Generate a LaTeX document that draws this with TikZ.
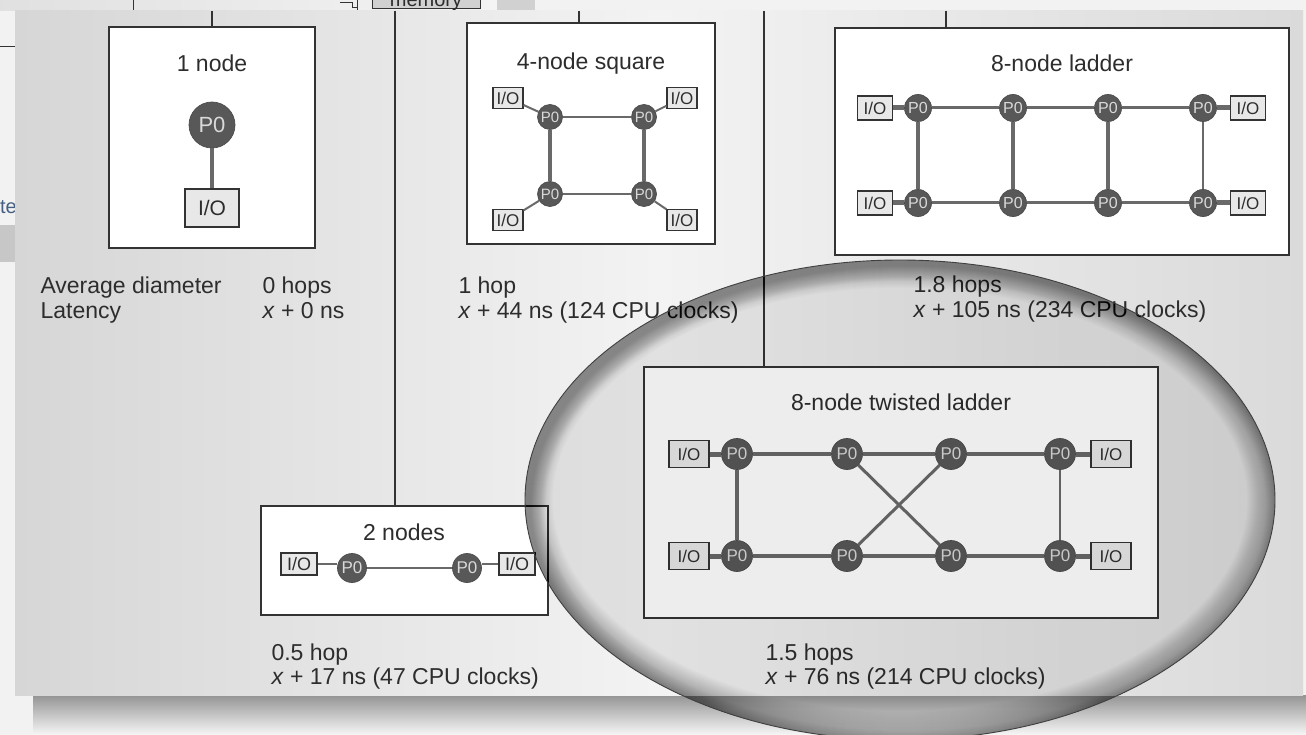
\documentclass[tikz,border=0pt]{standalone}
\usepackage{fontspec}
\setmainfont{Liberation Sans}
\usetikzlibrary{positioning}
\definecolor{procgray}{RGB}{88, 88, 88}
\definecolor{linkgray}{RGB}{105, 105, 105}
\definecolor{iofill}{RGB}{232, 232, 232}
\definecolor{inkgray}{RGB}{45, 45, 45}
\definecolor{panelleft}{RGB}{214, 214, 214}
\definecolor{panelmid}{RGB}{243, 243, 243}
\definecolor{panelright}{RGB}{218, 218, 218}
\definecolor{remblue}{RGB}{70, 95, 130}

\begin{document}
\begin{tikzpicture}[x=1pt, y=-1pt,
  netbox/.style={draw=black!80, fill=white, line width=1.2pt, inner sep=0pt},
  proc/.style={circle, fill=procgray, draw=black!70, line width=0.7pt,
    inner sep=0pt, minimum size=#1, text=white!85!black,
    font=\fontsize{16}{16}\selectfont},
  iobox/.style 2 args={draw=black!80, fill=iofill, line width=1.1pt,
    inner sep=0pt, minimum width=#1, minimum height=#2, text=inkgray,
    font=\fontsize{17}{17}\selectfont},
  link/.style={draw=linkgray, line width=#1},
  title/.style={anchor=base, text=inkgray, font=\fontsize{23}{24}\selectfont},
  metric/.style={anchor=base west, text=inkgray, font=\fontsize{23}{24}\selectfont},
  stem/.style={draw=black!80, line width=1.2pt}]
  \clip (0,0) rectangle (1306,735);
  \useasboundingbox (0,0) rectangle (1306,735);

  %--- page behind the panel ---
  \fill[black!5] (0,0) rectangle (1306,735);
  \shade[left color=black!12, right color=black!4] (0,0) rectangle (520,11);
  \fill[black!18] (497,0) rectangle (535,11);
  \draw[black!80, line width=1pt] (133,0) -- (133,11);
  \draw[black!80, line width=1pt] (340,3) -- (352,3) -- (352,8) -- (357,8)
    (357,0) -- (357,11);
  \node[draw=black!80, fill=black!18, line width=1pt, minimum width=108pt,
        minimum height=30pt, anchor=south west] (memory) at (372,9) {};
  \node[anchor=base, text=inkgray, font=\fontsize{20}{20}\selectfont,
        inner sep=0pt] (memlabel) at (426,7) {memory};
  \draw[black!80, line width=1pt] (0,47) -- (15,47);
  \fill[black!22] (0,225) rectangle (15,262);
  \node[anchor=base east, text=remblue, font=\fontsize{20}{20}\selectfont,
        inner sep=0pt] (cut) at (17,214) {te};

  %--- panel and its shadow ---
  \shade[top color=black!42, bottom color=black!3] (33,695) rectangle (1306,735);
  \shade[left color=panelleft, right color=panelright, middle color=panelmid]
    (15,11) rectangle (1303,695);

  %--- topology boxes ---
  \node[netbox, minimum width=206pt, minimum height=221pt] (one) at (212,137.5) {};
  \node[netbox, minimum width=248pt, minimum height=221pt] (square) at (591,133.5) {};
  \node[netbox, minimum width=454pt, minimum height=227pt] (ladder) at (1062,141.5) {};
  \node[netbox, minimum width=287pt, minimum height=109pt] (two) at (404.5,560.5) {};
  \node[netbox, minimum width=514pt, minimum height=251pt] (twisted) at (901,492.5) {};

  %--- stems from the top edge ---
  \coordinate (s1) at (212,11);
  \coordinate (s2) at (395,11);
  \coordinate (s3) at (579,11);
  \coordinate (s4) at (764,11);
  \coordinate (s5) at (946,11);
  \draw[stem] (s1) -- (s1 |- one.north);
  \draw[stem] (s2) -- (s2 |- two.north);
  \draw[stem] (s3) -- (s3 |- square.north);
  \draw[stem] (s4) -- (s4 |- twisted.north);
  \draw[stem] (s5) -- (s5 |- ladder.north);

  %--- titles ---
  \node[title] (t1) at (212,72) {1 node};
  \node[title] (t2) at (591,70) {4-node square};
  \node[title] (t3) at (1062,72) {8-node ladder};
  \node[title] (t4) at (404,540) {2 nodes};
  \node[title] (t5) at (901,410) {8-node twisted ladder};

  %--- 1 node ---
  \node[proc=46pt, font=\fontsize{22}{22}\selectfont] (p1) at (212,125) {P0};
  \node[iobox={54pt}{38pt}, font=\fontsize{21}{21}\selectfont] (io1) at (212,208) {I/O};
  \draw[link=4.5pt] (p1) -- (io1);

  %--- 4-node square ---
  \node[proc=25pt, font=\fontsize{15}{15}\selectfont] (sa) at (550,117) {P0};
  \node[proc=25pt, font=\fontsize{15}{15}\selectfont] (sb) at (644,117) {P0};
  \node[proc=25pt, font=\fontsize{15}{15}\selectfont] (sc) at (550,194) {P0};
  \node[proc=25pt, font=\fontsize{15}{15}\selectfont] (sd) at (644,194) {P0};
  \node[iobox={30pt}{21pt}] (sio1) at (508,98) {I/O};
  \node[iobox={30pt}{21pt}] (sio2) at (682,98) {I/O};
  \node[iobox={30pt}{21pt}] (sio3) at (508,220) {I/O};
  \node[iobox={30pt}{21pt}] (sio4) at (682,220) {I/O};
  \draw[link=2.5pt] (sa) -- (sb) (sc) -- (sd);
  \draw[link=4pt] (sa) -- (sc) (sb) -- (sd);
  \draw[link=2pt] (sio1) -- (sa) (sio2) -- (sb) (sio3) -- (sc) (sio4) -- (sd);

  %--- 8-node ladder ---
  \foreach \i/\x in {1/918, 2/1013, 3/1108, 4/1203} {
    \node[proc=27pt] (la\i) at (\x,108) {P0};
    \node[proc=27pt] (lb\i) at (\x,203) {P0};
  }
  \node[iobox={35pt}{24pt}] (lio1) at (875,108) {I/O};
  \node[iobox={35pt}{24pt}] (lio2) at (1248,108) {I/O};
  \node[iobox={35pt}{24pt}] (lio3) at (875,203) {I/O};
  \node[iobox={35pt}{24pt}] (lio4) at (1248,203) {I/O};
  \foreach \i [count=\j from 2] in {1,2,3}
    \draw[link=3pt] (la\i) -- (la\j) (lb\i) -- (lb\j);
  \draw[link=4pt] (la1) -- (lb1) (la2) -- (lb2) (la3) -- (lb3);
  \draw[link=2.5pt] (la4) -- (lb4);
  \draw[link=5pt] (lio1) -- (la1) (lio2) -- (la4) (lio3) -- (lb1) (lio4) -- (lb4);

  %--- 2 nodes ---
  \node[proc=29pt, font=\fontsize{17}{17}\selectfont] (da) at (352,568) {P0};
  \node[proc=29pt, font=\fontsize{17}{17}\selectfont] (db) at (467,568) {P0};
  \node[iobox={36pt}{22pt}, font=\fontsize{18}{18}\selectfont] (dio1) at (299,564) {I/O};
  \node[iobox={36pt}{22pt}, font=\fontsize{18}{18}\selectfont] (dio2) at (517,564) {I/O};
  \draw[link=2.5pt] (dio1) -- (dio1 -| da.west) (da) -- (db) (db.east |- dio2) -- (dio2);

  %--- 8-node twisted ladder ---
  \foreach \i/\x in {1/737, 2/847, 3/951, 4/1060} {
    \node[proc=31pt, font=\fontsize{17}{17}\selectfont] (ta\i) at (\x,454) {P0};
    \node[proc=31pt, font=\fontsize{17}{17}\selectfont] (tb\i) at (\x,556) {P0};
  }
  \node[iobox={40pt}{27pt}] (tio1) at (689,454) {I/O};
  \node[iobox={40pt}{27pt}] (tio2) at (1111,454) {I/O};
  \node[iobox={40pt}{27pt}] (tio3) at (689,556) {I/O};
  \node[iobox={40pt}{27pt}] (tio4) at (1111,556) {I/O};
  \foreach \i [count=\j from 2] in {1,2,3}
    \draw[link=3.5pt] (ta\i) -- (ta\j) (tb\i) -- (tb\j);
  \draw[link=3.5pt] (ta1) -- (tb1);
  \draw[link=2.5pt] (ta4) -- (tb4);
  \draw[link=3pt] (ta2) -- (tb3) (ta3) -- (tb2);
  \draw[link=5pt] (tio1) -- (ta1) (tio2) -- (ta4) (tio3) -- (tb1) (tio4) -- (tb4);

  %--- metrics ---
  \node[metric] (m1) at (37,294) {Average diameter};
  \node[metric] (m2) at (37,318) {Latency};
  \node[metric] (m3) at (259,294) {0 hops};
  \node[metric] (m4) at (259,318) {\textit{x} + 0 ns};
  \node[metric] (m5) at (455,294) {1 hop};
  \node[metric] (m6) at (455,318) {\textit{x} + 44 ns (124 CPU clocks)};
  \node[metric] (m7) at (910,293) {1.8 hops};
  \node[metric] (m8) at (910,317) {\textit{x} + 105 ns (234 CPU clocks)};
  \node[metric] (m9) at (268,660) {0.5 hop};
  \node[metric] (m10) at (268,684) {\textit{x} + 17 ns (47 CPU clocks)};
  \node[metric] (m11) at (762,660) {1.5 hops};
  \node[metric] (m12) at (762,684) {\textit{x} + 76 ns (214 CPU clocks)};

  %--- highlight lens ---
  \begin{scope}
    \clip (900,500) ellipse [x radius=375, y radius=240];
    \fill[black, opacity=0.07] (0,0) rectangle (1306,735);
    \foreach \w in {2,4,...,56}
      \draw[black, line width=\w pt, opacity=0.013]
        (900,500) ellipse [x radius=375, y radius=240];
    \foreach \w in {2,4,...,30}
      \draw[black, line width=\w pt, opacity=0.012]
        (906,506) ellipse [x radius=375, y radius=240];
  \end{scope}
  \draw[black!75, line width=0.9pt] (900,500) ellipse [x radius=375, y radius=240];
\end{tikzpicture}
\end{document}
